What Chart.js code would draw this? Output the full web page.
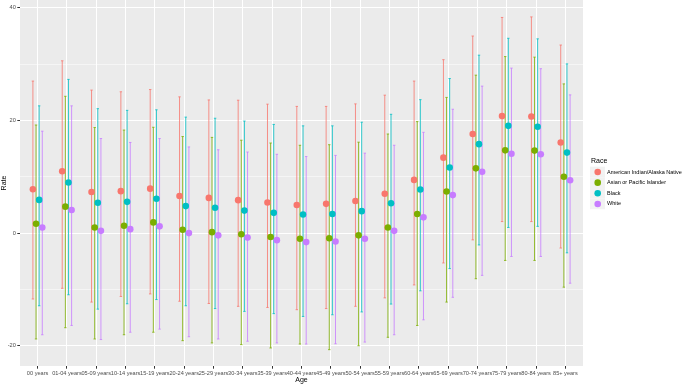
<!DOCTYPE html>
<html>
<head>
<meta charset="utf-8">
<script src="https://cdn.jsdelivr.net/npm/chart.js@4"></script>
<style>
html,body{margin:0;padding:0;background:#fff;}
#wrap{width:683px;height:384px;position:relative;}
</style>
</head>
<body>
<div id="wrap"><canvas id="c" width="683" height="384"></canvas></div>
<script>
const ageGroups = ["00 years","01-04 years","05-09 years","10-14 years","15-19 years","20-24 years","25-29 years","30-34 years","35-39 years","40-44 years","45-49 years","50-54 years","55-59 years","60-64 years","65-69 years","70-74 years","75-79 years","80-84 years","85+ years"];
const races = ["American Indian/Alaska Native","Asian or Pacific Islander","Black","White"];
const yTickLabels = [-20, 0, 20, 40];

const aianRate  = [7.8, 11.0, 7.3, 7.45, 7.9, 6.6, 6.25, 5.85, 5.45, 5.0, 5.2, 5.7, 7.0, 9.45, 13.4, 17.6, 20.8, 20.7, 16.1];
const aianLow   = [-11.7, -9.8, -12.25, -11.25, -10.8, -12.1, -12.5, -13.0, -13.2, -13.6, -13.4, -13.0, -11.5, -9.2, -5.3, -1.2, 2.05, 2.05, -2.65];
const aianHigh  = [27.0, 30.6, 25.4, 25.1, 25.5, 24.2, 23.65, 23.6, 22.9, 22.5, 22.5, 22.95, 24.5, 27.0, 30.8, 35.0, 38.3, 38.4, 33.4];

const apiRate   = [1.65, 4.7, 1.0, 1.3, 1.9, 0.6, 0.17, -0.2, -0.7, -1.0, -0.9, -0.4, 1.0, 3.4, 7.4, 11.5, 14.7, 14.65, 10.0];
const apiLow    = [-18.8, -16.8, -18.8, -18.05, -17.6, -19.1, -19.5, -19.8, -20.4, -19.7, -20.7, -20.0, -18.5, -16.4, -12.25, -8.1, -4.85, -4.85, -9.6];
const apiHigh   = [19.2, 24.3, 18.75, 18.3, 18.8, 17.15, 17.0, 16.5, 16.0, 15.6, 15.7, 16.15, 17.6, 19.8, 24.1, 28.05, 31.35, 31.25, 26.5];

const blackRate = [5.9, 9.0, 5.4, 5.55, 6.1, 4.8, 4.5, 4.0, 3.6, 3.3, 3.4, 3.9, 5.3, 7.75, 11.65, 15.8, 19.05, 18.9, 14.3];
const blackLow  = [-12.9, -10.95, -13.5, -12.55, -11.8, -12.9, -13.4, -13.9, -14.3, -14.8, -14.5, -14.0, -12.6, -10.25, -6.3, -2.1, 1.0, 1.2, -3.5];
const blackHigh = [22.6, 27.3, 22.1, 21.8, 21.9, 20.6, 20.4, 19.9, 19.3, 19.05, 19.05, 19.7, 21.1, 23.7, 27.45, 31.6, 34.6, 34.5, 30.05];

const whiteRate = [1.0, 4.1, 0.4, 0.7, 1.2, 0.0, -0.4, -0.8, -1.25, -1.6, -1.5, -1.0, 0.4, 2.8, 6.75, 10.9, 14.1, 14.0, 9.4];
const whiteLow  = [-18.05, -16.4, -18.9, -17.6, -17.05, -18.4, -18.8, -19.2, -19.5, -19.7, -19.65, -19.35, -18.05, -15.4, -11.4, -7.5, -4.15, -4.15, -8.9];
const whiteHigh = [18.1, 22.6, 16.8, 16.1, 16.8, 15.3, 14.8, 14.4, 14.0, 13.6, 13.8, 14.2, 15.6, 17.9, 22.0, 26.1, 29.3, 29.2, 24.55];

const colors = ["#F8766D", "#7CAE00", "#00BFC4", "#C77CFF"];
const dodge = [-0.16, -0.053, 0.053, 0.16];
const seriesRate = [aianRate, apiRate, blackRate, whiteRate];
const seriesLow = [aianLow, apiLow, blackLow, whiteLow];
const seriesHigh = [aianHigh, apiHigh, blackHigh, whiteHigh];

const datasets = races.map((r, s) => ({
  label: r,
  data: seriesRate[s].map((v, i) => ({x: i + 1 + dodge[s], y: v, lo: seriesLow[s][i], hi: seriesHigh[s][i]})),
  backgroundColor: colors[s],
  borderColor: colors[s],
  borderWidth: 0,
  pointRadius: 3.3,
  pointHoverRadius: 3.3
}));

const bgPlugin = {
  id: 'panelBg',
  beforeDraw(chart) {
    const {ctx, chartArea: a} = chart;
    ctx.save();
    ctx.fillStyle = '#EBEBEB';
    ctx.fillRect(a.left, a.top, a.right - a.left, a.bottom - a.top);
    ctx.restore();
  }
};

const errPlugin = {
  id: 'errorBars',
  beforeDatasetsDraw(chart) {
    const {ctx, scales: {x, y}} = chart;
    ctx.save();
    ctx.lineWidth = 0.8;
    chart.data.datasets.forEach((ds) => {
      ctx.strokeStyle = ds.borderColor;
      ds.data.forEach(p => {
        const px = x.getPixelForValue(p.x);
        const pl = y.getPixelForValue(p.lo);
        const ph = y.getPixelForValue(p.hi);
        ctx.beginPath();
        ctx.moveTo(px, pl); ctx.lineTo(px, ph);
        ctx.moveTo(px - 1.2, pl); ctx.lineTo(px + 1.2, pl);
        ctx.moveTo(px - 1.2, ph); ctx.lineTo(px + 1.2, ph);
        ctx.stroke();
      });
    });
    ctx.restore();
  }
};

const legendPlugin = {
  id: 'ggLegend',
  afterDraw(chart) {
    const {ctx} = chart;
    const x0 = 590, yTitle = 161, y0 = 172, dy = 10.65;
    ctx.save();
    ctx.fillStyle = '#000';
    ctx.font = '7px "Liberation Sans", Arial, sans-serif';
    ctx.textBaseline = 'middle';
    ctx.textAlign = 'left';
    ctx.fillText('Race', x0 + 1, yTitle);
    chart.data.datasets.forEach((ds, i) => {
      const cy = y0 + i * dy;
      ctx.fillStyle = '#F2F2F2';
      ctx.fillRect(x0, cy - dy / 2, 15, dy);
      ctx.beginPath();
      ctx.fillStyle = ds.backgroundColor;
      ctx.arc(x0 + 7.7, cy, 3.3, 0, Math.PI * 2);
      ctx.fill();
      ctx.fillStyle = '#000';
      ctx.font = '5.5px "Liberation Sans", Arial, sans-serif';
      ctx.fillText(ds.label, x0 + 17, cy);
    });
    ctx.restore();
  }
};

new Chart(document.getElementById('c'), {
  type: 'scatter',
  data: {datasets},
  plugins: [bgPlugin, errPlugin, legendPlugin],
  options: {
    responsive: false,
    animation: false,
    events: [],
    layout: {autoPadding: false, padding: {top: 0, right: 100, left: 0, bottom: 0}},
    plugins: {legend: {display: false}, tooltip: {enabled: false}},
    scales: {
      x: {
        type: 'linear',
        min: 0.4, max: 19.6,
        afterFit: s => { s.height = 18; s.paddingLeft = 0; s.paddingRight = 0; },
        afterBuildTicks: s => { s.ticks = ageGroups.map((_, i) => ({value: i + 1})); },
        border: {display: false},
        grid: {color: '#FFFFFF', lineWidth: 1, tickColor: '#333333', tickLength: 2.7, drawOnChartArea: true},
        ticks: {
          autoSkip: false, maxRotation: 0, minRotation: 0, padding: 1,
          color: '#4D4D4D',
          font: {size: 5.6, family: '"Liberation Sans", Arial, sans-serif'},
          callback: v => ageGroups[Math.round(v) - 1] ?? ''
        },
        title: {display: true, text: 'Age', color: '#000', padding: {top: 0, bottom: 0},
          font: {size: 7, family: '"Liberation Sans", Arial, sans-serif'}}
      },
      y: {
        min: -23.6, max: 41.4,
        afterFit: s => { s.width = 20; s.paddingTop = 0; s.paddingBottom = 0; },
        afterBuildTicks: s => { s.ticks = [-20, -10, 0, 10, 20, 30, 40].map(v => ({value: v})); },
        border: {display: false},
        grid: {
          color: '#FFFFFF',
          lineWidth: c => (yTickLabels.includes(c.tick.value) ? 1 : 0.5),
          tickColor: c => (yTickLabels.includes(c.tick.value) ? '#333333' : 'rgba(0,0,0,0)'),
          tickLength: 2.7
        },
        ticks: {
          padding: 1.5,
          color: '#4D4D4D',
          font: {size: 5.6, family: '"Liberation Sans", Arial, sans-serif'},
          callback: v => (yTickLabels.includes(v) ? String(v) : '')
        },
        title: {display: true, text: 'Rate', color: '#000', padding: {top: 0, bottom: 0},
          font: {size: 7, family: '"Liberation Sans", Arial, sans-serif'}}
      }
    }
  }
});
</script>
</body>
</html>
